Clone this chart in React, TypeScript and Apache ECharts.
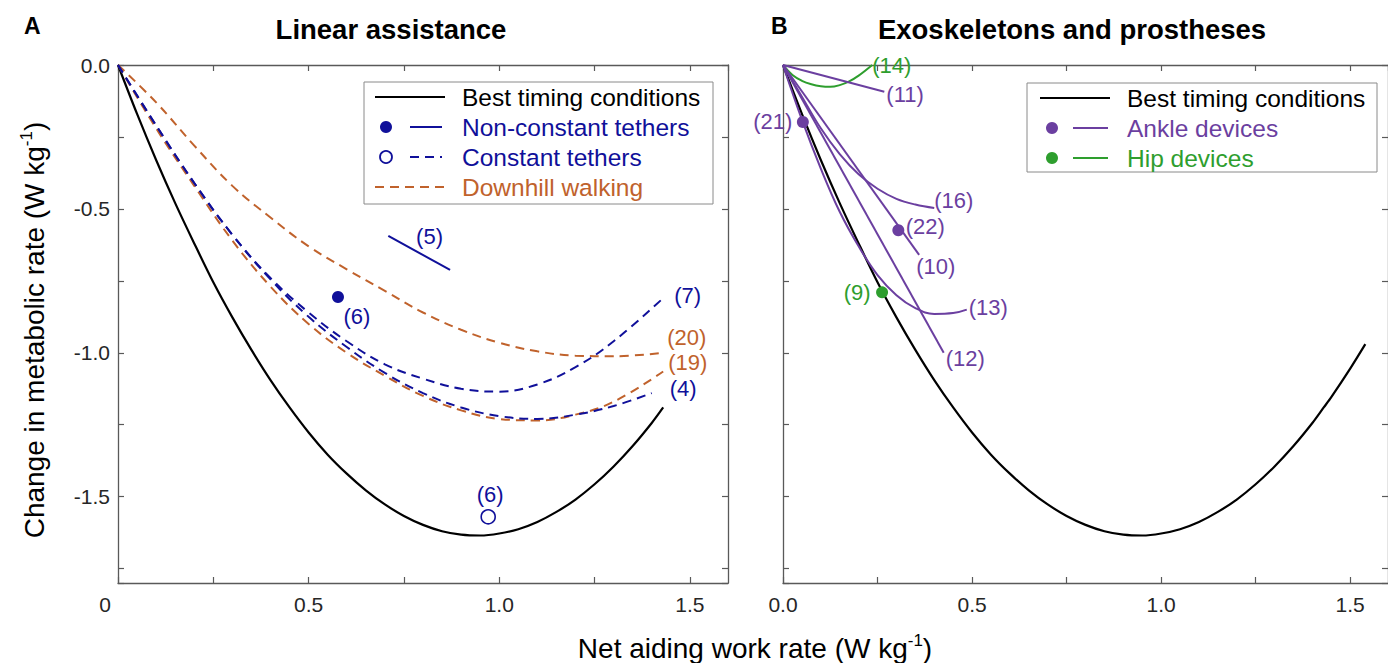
import React, { useEffect, useRef } from 'react';
import * as echarts from 'echarts';

// ---------- colours / fonts ----------
const BLACK = '#000000';
const BLUE = '#10109A';
const ORANGE = '#C0622C';
const PURPLE = '#6B3FA0';
const GREEN = '#2E9E2E';
const AXIS = '#595959';
const LABEL = '#262626';
const FONT = '"Liberation Sans", Arial, Helvetica, sans-serif';

// ---------- data ----------
// Best timing conditions (shared by both panels)
const bestX = [0, 0.05, 0.1, 0.15, 0.2, 0.25, 0.3, 0.35, 0.4, 0.45, 0.5, 0.55, 0.6, 0.65, 0.7, 0.75, 0.8, 0.85, 0.9, 0.95, 1.0, 1.05, 1.1, 1.15, 1.2, 1.25, 1.3, 1.35, 1.4, 1.43, 1.45, 1.5, 1.54];
const bestY = [0, -0.17, -0.33, -0.48, -0.62, -0.755, -0.877, -0.99, -1.095, -1.19, -1.277, -1.354, -1.42, -1.478, -1.527, -1.567, -1.598, -1.62, -1.632, -1.635, -1.628, -1.613, -1.588, -1.553, -1.51, -1.457, -1.395, -1.324, -1.244, -1.19, -1.154, -1.055, -0.97];
const bestEndA = 1.43;

// Panel A: constant tethers
const t7X = [0, 0.1, 0.2, 0.3, 0.4, 0.5, 0.6, 0.7, 0.8, 0.9, 1.0, 1.1, 1.2, 1.3, 1.43];
const t7Y = [0, -0.21, -0.41, -0.59, -0.74, -0.86, -0.96, -1.04, -1.09, -1.125, -1.135, -1.11, -1.05, -0.96, -0.81];
const t4X = [0, 0.1, 0.2, 0.3, 0.4, 0.5, 0.6, 0.7, 0.8, 0.9, 1.0, 1.1, 1.2, 1.3, 1.4];
const t4Y = [0, -0.21, -0.41, -0.59, -0.745, -0.875, -0.98, -1.07, -1.14, -1.19, -1.22, -1.23, -1.215, -1.185, -1.14];
// Panel A: downhill walking
const d19X = [0, 0.1, 0.2, 0.3, 0.4, 0.5, 0.6, 0.7, 0.8, 0.9, 1.0, 1.1, 1.2, 1.3, 1.43];
const d19Y = [0, -0.22, -0.42, -0.61, -0.77, -0.90, -1.00, -1.08, -1.15, -1.20, -1.23, -1.235, -1.215, -1.17, -1.065];
const d20X = [0, 0.1, 0.2, 0.3, 0.4, 0.5, 0.6, 0.7, 0.8, 0.9, 1.0, 1.1, 1.2, 1.3, 1.43];
const d20Y = [0, -0.13, -0.28, -0.42, -0.53, -0.63, -0.71, -0.785, -0.86, -0.92, -0.965, -0.995, -1.01, -1.012, -1.0];
// Panel A: non-constant tether segment (5) and points (6)
const n5X = [0.709, 0.871];
const n5Y = [-0.594, -0.712];
const nonConstPoint = [0.577, -0.806];
const constPoint = [0.971, -1.57];

// Panel B: hip / ankle devices
const h14X = [0, 0.025, 0.05, 0.075, 0.1, 0.125, 0.15, 0.175, 0.2, 0.236];
const h14Y = [0, -0.035, -0.055, -0.067, -0.074, -0.076, -0.07, -0.057, -0.037, 0];
const a11X = [0, 0.268];
const a11Y = [0, -0.093];
const a16X = [0, 0.05, 0.1, 0.15, 0.2, 0.25, 0.3, 0.35, 0.4];
const a16Y = [0, -0.11, -0.22, -0.31, -0.38, -0.43, -0.465, -0.485, -0.497];
const a10X = [0, 0.36];
const a10Y = [0, -0.66];
const a13X = [0, 0.05, 0.1, 0.15, 0.2, 0.25, 0.3, 0.35, 0.4, 0.45, 0.486];
const a13Y = [0, -0.19, -0.36, -0.51, -0.63, -0.73, -0.80, -0.845, -0.865, -0.862, -0.85];
const a12X = [0, 0.425];
const a12Y = [0, -1.0];
const ankle21 = [0.0525, -0.198];
const ankle22 = [0.305, -0.574];
const hip9 = [0.262, -0.79];

// axis ticks
const xMin = 0, xMax = 1.6, xStep = 0.25;
const yMin = -1.8, yMax = 0, yStep = 0.25;

const pts = (xs: number[], ys: number[]) => xs.map((x, i) => [x, ys[i]]);
const isHalf = (v: number) => Math.abs(v * 2 - Math.round(v * 2)) < 1e-6;

export default function App() {
  const ref = useRef<HTMLDivElement>(null);

  useEffect(() => {
    if (!ref.current) return;
    const chart = echarts.init(ref.current, null, { renderer: 'svg' });

    const grids = [
      { left: 118, top: 65, width: 610, height: 518 },
      { left: 783, top: 65, width: 610, height: 518 },
    ];

    const TICKFS = 21;
    const xAxes: any[] = [];
    const yAxes: any[] = [];
    [0, 1].forEach((g) => {
      const base = {
        type: 'value', gridIndex: g, min: xMin, max: xMax, interval: xStep,
        splitLine: { show: false },
        axisLine: { show: true, onZero: false, lineStyle: { color: AXIS, width: 1.3 } },
        axisTick: { show: true, inside: true, length: 6, lineStyle: { color: AXIS, width: 1.2 } },
      };
      xAxes.push({
        ...base, position: 'bottom',
        axisLabel: {
          fontSize: TICKFS, color: LABEL, fontFamily: FONT, margin: 11, showMaxLabel: false,
          formatter: (v: number) => {
            if (!isHalf(v) || v > 1.5 + 1e-9) return '';
            if (Math.abs(v) < 1e-9) return g === 0 ? '{z|0}' : '0.0';
            return v.toFixed(1);
          },
          rich: { z: { fontSize: TICKFS, color: LABEL, fontFamily: FONT, padding: [0, 26, 0, 0] } },
        },
      });
      xAxes.push({ ...base, position: 'top', axisLabel: { show: false } });
      const ybase = {
        type: 'value', gridIndex: g, min: yMin, max: yMax, minInterval: yStep, maxInterval: yStep,
        splitLine: { show: false },
        axisLine: { show: true, onZero: false, lineStyle: { color: AXIS, width: 1.3 } },
        axisTick: { show: true, inside: true, length: 6, lineStyle: { color: AXIS, width: 1.2 } },
      };
      yAxes.push({
        ...ybase, position: 'left',
        axisLabel: {
          show: g === 0, fontSize: TICKFS, color: LABEL, fontFamily: FONT, margin: 8,
          formatter: (v: number) => (isHalf(v) ? v.toFixed(1) : ''),
        },
      });
      yAxes.push({ ...ybase, position: 'right', axisLabel: { show: false } });
    });

    const LFS = 22;
    const dash = [9, 6];
    const line = (name: string, data: number[][], color: string, g: number, opts: any = {}) => ({
      name, type: 'line', xAxisIndex: g * 2, yAxisIndex: g * 2, data,
      showSymbol: false, symbol: 'none', smooth: opts.smooth ?? 0.4, clip: false,
      lineStyle: { color, width: opts.width ?? 2, type: opts.dashed ? dash : 'solid', opacity: 1 },
      z: opts.z ?? 3,
      endLabel: opts.label
        ? {
            show: true, formatter: opts.label, color, fontSize: LFS, fontFamily: FONT,
            distance: 0, offset: opts.offset || [4, 0],
          }
        : { show: false },
    });
    const dot = (name: string, p: number[], color: string, g: number, label: string, offset: number[], empty = false) => ({
      name, type: 'scatter', xAxisIndex: g * 2, yAxisIndex: g * 2, data: [p],
      symbol: 'circle', symbolSize: empty ? 14 : 12, z: 5,
      itemStyle: empty
        ? { color: '#ffffff', borderColor: color, borderWidth: 1.6, opacity: 1 }
        : { color, opacity: 1 },
      label: { show: true, formatter: label, position: 'inside', offset, color, fontSize: LFS, fontFamily: FONT, opacity: 1 },
    });

    const bestA = pts(bestX, bestY).filter((p) => p[0] <= bestEndA + 1e-9);
    const bestB = pts(bestX, bestY);

    const series: any[] = [
      line('Best A', bestA, BLACK, 0, { z: 2, smooth: 0.3, width: 2.2 }),
      line('(20)', pts(d20X, d20Y), ORANGE, 0, { dashed: true, label: '(20)', offset: [4, -15] }),
      line('(19)', pts(d19X, d19Y), ORANGE, 0, { dashed: true, label: '(19)', offset: [5, -9] }),
      line('(7)', pts(t7X, t7Y), BLUE, 0, { dashed: true, label: '(7)', offset: [11, -3] }),
      line('(4)', pts(t4X, t4Y), BLUE, 0, { dashed: true, label: '(4)', offset: [18, -5] }),
      line('(5)', pts(n5X, n5Y), BLUE, 0, { label: '(5)', offset: [-34, -33] }),
      dot('(6) non-constant', nonConstPoint, BLUE, 0, '(6)', [19, 20]),
      dot('(6) constant', constPoint, BLUE, 0, '(6)', [2, -22], true),

      line('Best B', bestB, BLACK, 1, { z: 2, smooth: 0.3, width: 2.2 }),
      line('(14)', pts(h14X, h14Y), GREEN, 1, { label: '(14)', offset: [0, 0] }),
      line('(11)', pts(a11X, a11Y), PURPLE, 1, { label: '(11)', offset: [2, 3] }),
      line('(16)', pts(a16X, a16Y), PURPLE, 1, { label: '(16)', offset: [0, -8] }),
      line('(10)', pts(a10X, a10Y), PURPLE, 1, { label: '(10)', offset: [-3, 12] }),
      line('(13)', pts(a13X, a13Y), PURPLE, 1, { label: '(13)', offset: [2, -2] }),
      line('(12)', pts(a12X, a12Y), PURPLE, 1, { label: '(12)', offset: [2, 6] }),
      dot('(21)', ankle21, PURPLE, 1, '(21)', [-30, 0]),
      dot('(22)', ankle22, PURPLE, 1, '(22)', [27, -4]),
      dot('(9)', hip9, GREEN, 1, '(9)', [-25, 0]),
    ];

    const txt = (text: string, x: number, y: number, fill: string, fontSize = 24.5, extra: any = {}) => ({
      type: 'text', x, y, z: 100,
      style: { text, fill, fontSize, fontFamily: FONT, align: 'left', verticalAlign: 'middle', ...extra },
    });
    const seg = (x1: number, y1: number, x2: number, y2: number, stroke: string, lineDash?: number[]) => ({
      type: 'line', z: 100, shape: { x1, y1, x2, y2 },
      style: { stroke, lineWidth: 2, lineDash: lineDash || null },
    });
    const circ = (cx: number, cy: number, r: number, fill: string, stroke?: string) => ({
      type: 'circle', z: 100, shape: { cx, cy, r },
      style: stroke ? { fill, stroke, lineWidth: 1.8 } : { fill },
    });

    const titleRich = {
      a: { fontSize: 28, fontFamily: FONT, fill: BLACK, lineHeight: 32 },
      s: { fontSize: 17, fontFamily: FONT, fill: BLACK, verticalAlign: 'top' },
    };

    const graphic: any[] = [
      // panel letters and titles
      txt('A', 24, 26, BLACK, 23, { fontWeight: 'bold' }),
      txt('B', 771, 26, BLACK, 23, { fontWeight: 'bold' }),
      txt('Linear assistance', 391, 29, BLACK, 27.5, { fontWeight: 'bold', align: 'center' }),
      txt('Exoskeletons and prostheses', 1072, 29, BLACK, 27.5, { fontWeight: 'bold', align: 'center' }),
      // axis titles
      {
        type: 'text', x: 755, y: 648, z: 100,
        style: { text: '{a|Net aiding work rate (W kg}{s|-1}{a|)}', align: 'center', verticalAlign: 'middle', rich: titleRich },
      },
      {
        type: 'text', x: 34, y: 330, z: 100, rotation: Math.PI / 2,
        style: { text: '{a|Change in metabolic rate (W kg}{s|-1}{a|)}', align: 'center', verticalAlign: 'middle', rich: titleRich },
      },
      // legend A
      { type: 'rect', z: 99, shape: { x: 364, y: 82, width: 349, height: 122 }, style: { fill: '#ffffff', stroke: '#8a8a8a', lineWidth: 1 } },
      seg(375, 97, 445, 97, BLACK),
      txt('Best timing conditions', 462, 97, BLACK),
      circ(386, 127, 6, BLUE),
      seg(410, 127, 442, 127, BLUE),
      txt('Non-constant tethers', 462, 127, BLUE),
      circ(386, 157, 6, '#ffffff', BLUE),
      seg(410, 157, 442, 157, BLUE, [9, 6]),
      txt('Constant tethers', 462, 157, BLUE),
      seg(375, 187, 445, 187, ORANGE, [9, 6]),
      txt('Downhill walking', 462, 187, ORANGE),
      // legend B
      { type: 'rect', z: 99, shape: { x: 1027, y: 83, width: 350, height: 89 }, style: { fill: '#ffffff', stroke: '#8a8a8a', lineWidth: 1 } },
      seg(1040, 98, 1110, 98, BLACK),
      txt('Best timing conditions', 1127, 98, BLACK),
      circ(1052, 128, 6, PURPLE),
      seg(1073, 128, 1108, 128, PURPLE),
      txt('Ankle devices', 1127, 128, PURPLE),
      circ(1052, 158, 6, GREEN),
      seg(1073, 158, 1108, 158, GREEN),
      txt('Hip devices', 1127, 158, GREEN),
    ];

    chart.setOption({
      animation: false,
      backgroundColor: '#ffffff',
      textStyle: { fontFamily: FONT },
      grid: grids,
      xAxis: xAxes,
      yAxis: yAxes,
      series,
      graphic,
    });

    return () => chart.dispose();
  }, []);

  return (
    <div
      ref={ref}
      style={{ position: 'absolute', left: 0, top: 0, width: 1388, height: 663, background: '#fff' }}
    />
  );
}
